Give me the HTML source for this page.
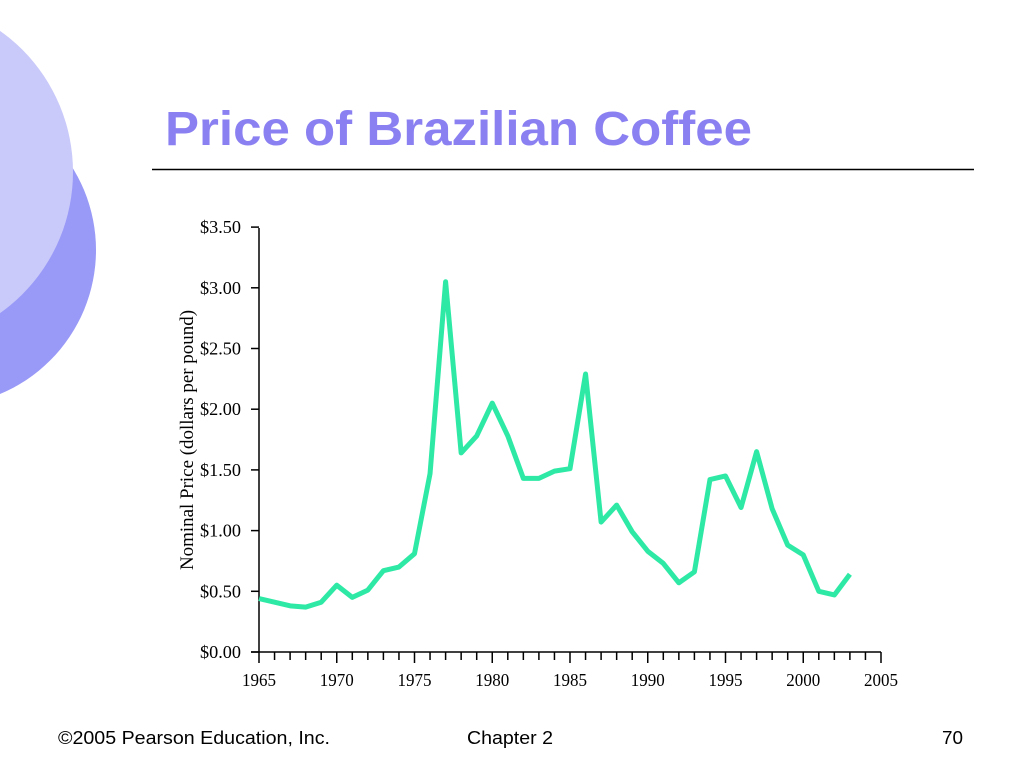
<!DOCTYPE html>
<html><head><style>
body{margin:0;width:1024px;height:767px;overflow:hidden;background:#fff;}
</style></head><body>
<svg width="1024" height="767" viewBox="0 0 1024 767" xmlns="http://www.w3.org/2000/svg">
<circle cx="-60" cy="250" r="156" fill="#9999f7"/>
<circle cx="-100" cy="172" r="173" fill="#c9c9fa"/>
<text x="165" y="145" font-family="Liberation Sans, sans-serif" font-weight="bold" font-size="48" fill="#8b80f2" textLength="587" lengthAdjust="spacingAndGlyphs">Price of Brazilian Coffee</text>
<line x1="152" y1="169.5" x2="974" y2="169.5" stroke="#000" stroke-width="1.5"/>
<g font-family="Liberation Serif, serif" font-size="18" fill="#000">
<g text-anchor="end" id="yl"></g>
<g text-anchor="middle" id="xl"></g>
<text transform="translate(193,440) rotate(-90)" text-anchor="middle" font-size="19" textLength="260" lengthAdjust="spacingAndGlyphs">Nominal Price (dollars per pound)</text>
</g>
<g id="ax" stroke="#000" stroke-width="1.5"></g>
<polyline id="pl" fill="none" stroke="#2ee9a6" stroke-width="5" stroke-linejoin="round"/>
<g font-family="Liberation Sans, sans-serif" font-size="18" fill="#000">
<text x="58" y="744" textLength="272" lengthAdjust="spacingAndGlyphs">©2005 Pearson Education, Inc.</text>
<text x="467" y="744" textLength="86" lengthAdjust="spacingAndGlyphs">Chapter 2</text>
<text x="942" y="744" textLength="21" lengthAdjust="spacingAndGlyphs">70</text>
</g>
</svg>
<script>
var X0=259,Y0=652,dx=15.55,dy=121.4,ns="http://www.w3.org/2000/svg";
function el(t,a,p,txt){var e=document.createElementNS(ns,t);for(var k in a)e.setAttribute(k,a[k]);if(txt)e.textContent=txt;document.getElementById(p).appendChild(e);}
el('line',{x1:X0,y1:228,x2:X0,y2:Y0},'ax');
el('line',{x1:X0-8,y1:Y0,x2:881,y2:Y0},'ax');
for(var i=0;i<=7;i++){var y=Y0-i*0.5*dy;el('line',{x1:X0-8,y1:y,x2:X0,y2:y},'ax');el('text',{x:X0-18,y:y+6,textLength:41,lengthAdjust:'spacingAndGlyphs'},'yl','$'+(i*0.5).toFixed(2));}
for(var i=0;i<=40;i++){var x=X0+i*dx;el('line',{x1:x,y1:Y0,x2:x,y2:Y0+(i%5?8:11)},'ax');if(i%5==0)el('text',{x:x,y:Y0+34,textLength:34,lengthAdjust:'spacingAndGlyphs'},'xl',String(1965+i));}
var v=[0.44,0.41,0.38,0.37,0.41,0.55,0.45,0.51,0.67,0.70,0.81,1.47,3.05,1.64,1.78,2.05,1.78,1.43,1.43,1.49,1.51,2.29,1.07,1.21,0.99,0.83,0.73,0.57,0.66,1.42,1.45,1.19,1.65,1.18,0.88,0.80,0.50,0.47,0.64];
document.getElementById('pl').setAttribute('points',v.map(function(a,i){return (X0+i*dx)+','+(Y0-a*dy)}).join(' '));
</script>
</body></html>
